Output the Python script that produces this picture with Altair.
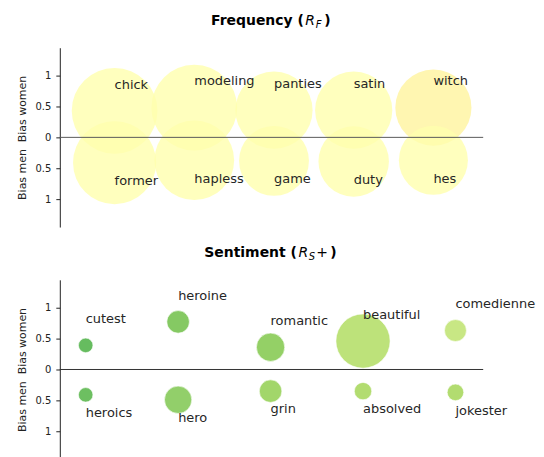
import altair as alt
import pandas as pd

FONT = "DejaVu Sans"

# ---------------- data ----------------
freq_women_words = ["chick", "modeling", "panties", "satin", "witch"]
freq_women_bias = [0.43, 0.48, 0.44, 0.44, 0.48]
freq_women_weight = [18.5, 18.5, 15.0, 15.0, 14.6]
freq_men_words = ["former", "hapless", "game", "duty", "hes"]
freq_men_bias = [0.41, 0.37, 0.38, 0.39, 0.37]
freq_men_weight = [17.4, 16.0, 12.3, 12.5, 12.0]

sent_women_words = ["cutest", "heroine", "romantic", "beautiful", "comedienne"]
sent_women_bias = [0.39, 0.77, 0.36, 0.46, 0.63]
sent_women_weight = [0.53, 1.28, 2.02, 7.4, 1.21]
sent_men_words = ["heroics", "hero", "grin", "absolved", "jokester"]
sent_men_bias = [0.41, 0.49, 0.35, 0.35, 0.37]
sent_men_weight = [0.53, 1.88, 1.28, 0.76, 0.69]

# ---------------- styles ----------------
freq_women_colors = ["#ffffae", "#ffffae", "#ffffae", "#ffffae", "#fff49e"]
freq_men_colors = ["#ffffae", "#ffffae", "#ffffae", "#ffffae", "#ffffae"]
sent_women_colors = ["#66bc5f", "#85c963", "#94d066", "#bde27a", "#c8e784"]
sent_men_colors = ["#6dbf61", "#92cf6a", "#a2d66a", "#b2dc70", "#b2dc70"]

W, H = 425, 180
LABEL_OFFSET = 0.36
NB = "\u00a0"


def build_df(w_words, w_bias, w_weight, m_words, m_bias, m_weight):
    rows = []
    for i, (wd, b, s) in enumerate(zip(w_words, w_bias, w_weight)):
        rows.append({"pos": i, "word": wd, "bias": b, "weight": s})
    for i, (wd, b, s) in enumerate(zip(m_words, m_bias, m_weight)):
        rows.append({"pos": i, "word": wd, "bias": -b, "weight": s})
    return pd.DataFrame(rows)


def title_piece(text, x, y, size=14, weight="bold", style="normal", align="left"):
    return alt.Chart(alt.Data(values=[{"t": text}])).mark_text(
        align=align, baseline="alphabetic", fontSize=size, fontWeight=weight,
        fontStyle=style, font=FONT, color="black"
    ).encode(x=alt.value(x), y=alt.value(y), text="t:N")


def panel(df, words, colors, xdomain, opacity, stroke_op, rule_color, title_pieces):
    base = alt.Chart(df).transform_calculate(
        label_y=f"datum.bias > 0 ? datum.bias + {LABEL_OFFSET} : datum.bias - {LABEL_OFFSET}"
    )
    x = alt.X("pos:Q", scale=alt.Scale(domain=xdomain, nice=False, zero=False), axis=None)
    y = alt.Y(
        "bias:Q",
        scale=alt.Scale(domain=[-1.45, 1.45], nice=False),
        axis=alt.Axis(
            values=[-1, -0.5, 0, 0.5, 1],
            labelExpr="'' + abs(datum.value)",
            title=f"Bias men{NB}{NB}Bias women",
            titleFontSize=11, titleFontWeight="normal", titleColor="#222",
            titlePadding=8, labelFontSize=10, labelColor="#222",
            labelPadding=5, tickSize=4, tickColor="#222", domainColor="#222",
            grid=False,
        ),
    )
    circles = base.mark_circle(
        opacity=opacity, stroke="white", strokeWidth=1, strokeOpacity=stroke_op
    ).encode(
        x=x, y=y,
        size=alt.Size("weight:Q", scale=alt.Scale(type="linear", domain=[0, 20], range=[0, 8000]), legend=None),
        color=alt.Color("word:N", scale=alt.Scale(domain=words, range=colors), legend=None),
    )
    rule = alt.Chart(alt.Data(values=[{}])).mark_rule(color=rule_color, strokeWidth=1).encode(
        y=alt.datum(0)
    )
    labels = base.mark_text(
        align="left", baseline="alphabetic", fontSize=13, font=FONT, color="#262626"
    ).encode(x=x, y=alt.Y("label_y:Q"), text="word:N")
    return alt.layer(circles, rule, labels, *title_pieces).properties(width=W, height=H)


freq_df = build_df(freq_women_words, freq_women_bias, freq_women_weight,
                   freq_men_words, freq_men_bias, freq_men_weight)
sent_df = build_df(sent_women_words, sent_women_bias, sent_women_weight,
                   sent_men_words, sent_men_bias, sent_men_weight)

freq_title = [
    title_piece("Frequency (", 245, -22.7, align="right"),
    title_piece("R", 246.5, -22.7, weight="normal", style="italic"),
    title_piece("F", 257, -19.3, size=10, weight="normal", style="italic"),
    title_piece(")", 265.5, -22.7),
]
sent_title = [
    title_piece("Sentiment (", 238, -23, align="right"),
    title_piece("R", 239.5, -23, weight="normal", style="italic"),
    title_piece("S", 250, -20.3, size=10, weight="normal", style="italic"),
    title_piece("+", 257.5, -23, weight="normal"),
    title_piece(")", 271.5, -23),
]

top = panel(freq_df, freq_women_words + freq_men_words, freq_women_colors + freq_men_colors,
            [-0.6875, 4.625], 0.8, 0.0, "#5a5a5a", freq_title)
bottom = panel(sent_df, sent_women_words + sent_men_words, sent_women_colors + sent_men_colors,
               [-0.28, 4.30], 1.0, 0.6, "#333333", sent_title)

chart = alt.vconcat(top, bottom, spacing=19).resolve_scale(
    color="independent", x="independent"
).properties(
    padding={"left": 8, "top": 5, "right": 0, "bottom": 0}
).configure(font=FONT).configure_view(strokeWidth=0, stroke="transparent")

chart.save("out.html", embed_options={"renderer": "svg", "actions": False})
